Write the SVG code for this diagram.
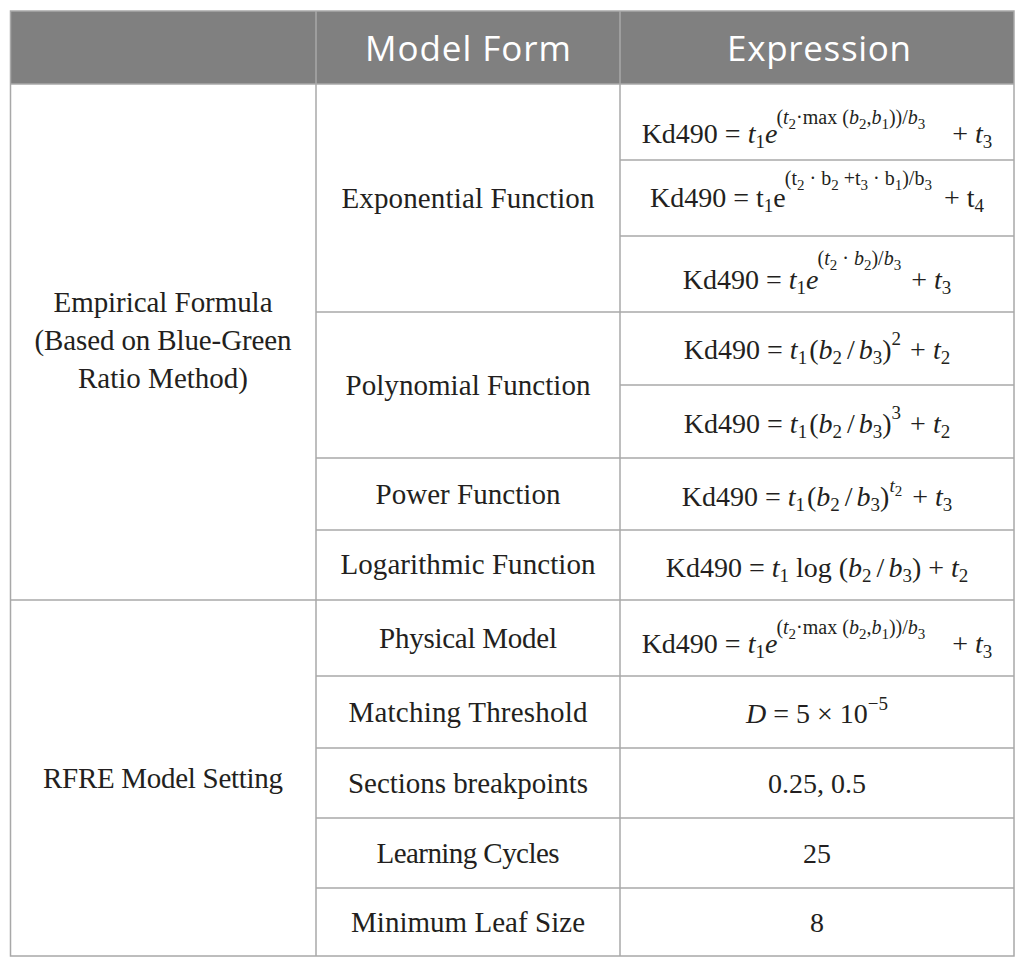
<svg xmlns="http://www.w3.org/2000/svg" width="1025" height="967" viewBox="0 0 1025 967">
<style>
.hd{font-family:"Open Sans","Liberation Sans",sans-serif;font-size:35px;fill:#ffffff;text-anchor:middle}
.t{font-family:"Liberation Serif",serif;font-size:29px;fill:#231f20;text-anchor:middle}
.f{font-family:"Liberation Serif",serif;font-size:28px;fill:#231f20;text-anchor:middle}
.i{font-style:italic}
.s1{font-size:19px}
.e1{font-size:20px}
.s2{font-size:15px}
.ln{stroke:#a8a8a8;stroke-width:1.5;fill:none}
</style>
<rect x="0" y="0" width="1025" height="967" fill="#ffffff"/>
<g id="header">
<rect x="10.5" y="11" width="1003.5" height="73" fill="#808080"/>
<text class="hd" x="468" y="61" textLength="206">Model Form</text>
<text class="hd" x="819" y="61" textLength="184">Expression</text>
</g>
<g id="grid">
<rect class="ln" x="10.5" y="11" width="1003.5" height="945"/>
<line class="ln" x1="316" y1="11" x2="316" y2="956"/>
<line class="ln" x1="620" y1="11" x2="620" y2="956"/>
<line class="ln" x1="10.5" y1="84" x2="1014" y2="84"/>
<line class="ln" x1="10.5" y1="600" x2="1014" y2="600"/>
<line class="ln" x1="316" y1="312" x2="1014" y2="312"/>
<line class="ln" x1="316" y1="458" x2="1014" y2="458"/>
<line class="ln" x1="316" y1="530" x2="1014" y2="530"/>
<line class="ln" x1="316" y1="676" x2="1014" y2="676"/>
<line class="ln" x1="316" y1="748" x2="1014" y2="748"/>
<line class="ln" x1="316" y1="818" x2="1014" y2="818"/>
<line class="ln" x1="316" y1="888" x2="1014" y2="888"/>
<line class="ln" x1="620" y1="160" x2="1014" y2="160"/>
<line class="ln" x1="620" y1="236" x2="1014" y2="236"/>
<line class="ln" x1="620" y1="385" x2="1014" y2="385"/>
</g>
<g id="cat-empirical">
<text class="t" x="163" y="312" textLength="219">Empirical Formula</text>
<text class="t" x="163" y="350" textLength="257">(Based on Blue-Green</text>
<text class="t" x="163" y="388" textLength="170">Ratio Method)</text>
</g>
<g id="cat-rfre">
<text class="t" x="163" y="788" textLength="240">RFRE Model Setting</text>
</g>
<g id="form-exponential"><text class="t" x="468" y="208" textLength="253">Exponential Function</text></g>
<g id="form-polynomial"><text class="t" x="468" y="395" textLength="245">Polynomial Function</text></g>
<g id="form-power"><text class="t" x="468" y="504" textLength="185">Power Function</text></g>
<g id="form-log"><text class="t" x="468" y="574" textLength="255">Logarithmic Function</text></g>
<g id="form-physical"><text class="t" x="468" y="648" textLength="178">Physical Model</text></g>
<g id="form-threshold"><text class="t" x="468" y="722" textLength="239">Matching Threshold</text></g>
<g id="form-breakpoints"><text class="t" x="468" y="793" textLength="240">Sections breakpoints</text></g>
<g id="form-cycles"><text class="t" x="468" y="863" textLength="183">Learning Cycles</text></g>
<g id="form-leaf"><text class="t" x="468" y="932" textLength="234">Minimum Leaf Size</text></g>
<g id="expr-1"><text class="f" x="817" y="143">Kd490 = <tspan class="i">t</tspan><tspan class="s1" dy="5">1</tspan><tspan class="i" dy="-5">e</tspan><tspan class="e1" dy="-19" dx="-1">(</tspan><tspan class="e1 i">t</tspan><tspan class="s2" dy="5">2</tspan><tspan class="e1" dy="-5">·max (</tspan><tspan class="e1 i">b</tspan><tspan class="s2" dy="5">2</tspan><tspan class="e1" dy="-5">,</tspan><tspan class="e1 i">b</tspan><tspan class="s2" dy="5">1</tspan><tspan class="e1" dy="-5">))/</tspan><tspan class="e1 i">b</tspan><tspan class="s2" dy="5">3</tspan><tspan dy="14" dx="20"> + </tspan><tspan class="i">t</tspan><tspan class="s1" dy="5">3</tspan></text></g>
<g id="expr-2"><text class="f" x="817" y="207">Kd490 = t<tspan class="s1" dy="5">1</tspan><tspan dy="-5">e</tspan><tspan class="e1" dy="-22" dx="-1">(t</tspan><tspan class="s2" dy="5">2</tspan><tspan class="e1" dy="-5"> · b</tspan><tspan class="s2" dy="5">2</tspan><tspan class="e1" dy="-5"> +t</tspan><tspan class="s2" dy="5">3</tspan><tspan class="e1" dy="-5"> · b</tspan><tspan class="s2" dy="5">1</tspan><tspan class="e1" dy="-5">)/b</tspan><tspan class="s2" dy="5">3</tspan><tspan dy="17" dx="5"> + </tspan>t<tspan class="s1" dy="5">4</tspan></text></g>
<g id="expr-3"><text class="f" x="817" y="289">Kd490 = <tspan class="i">t</tspan><tspan class="s1" dy="5">1</tspan><tspan class="i" dy="-5">e</tspan><tspan class="e1" dy="-24" dx="-1">(</tspan><tspan class="e1 i">t</tspan><tspan class="s2" dy="5">2</tspan><tspan class="e1" dy="-5"> · </tspan><tspan class="e1 i">b</tspan><tspan class="s2" dy="5">2</tspan><tspan class="e1" dy="-5">)/</tspan><tspan class="e1 i">b</tspan><tspan class="s2" dy="5">3</tspan><tspan dy="19" dx="3"> + </tspan><tspan class="i">t</tspan><tspan class="s1" dy="5">3</tspan></text></g>
<g id="expr-4"><text class="f" x="817" y="359">Kd490 = <tspan class="i">t</tspan><tspan class="s1" dy="5">1</tspan><tspan dy="-5" dx="2">(</tspan><tspan class="i">b</tspan><tspan class="s1" dy="5">2</tspan><tspan dy="-5" dx="5">/</tspan><tspan class="i" dx="4">b</tspan><tspan class="s1" dy="5">3</tspan><tspan dy="-5">)</tspan><tspan class="s1" dy="-14">2</tspan><tspan dy="14" dx="2"> + </tspan><tspan class="i">t</tspan><tspan class="s1" dy="5">2</tspan></text></g>
<g id="expr-5"><text class="f" x="817" y="433">Kd490 = <tspan class="i">t</tspan><tspan class="s1" dy="5">1</tspan><tspan dy="-5" dx="2">(</tspan><tspan class="i">b</tspan><tspan class="s1" dy="5">2</tspan><tspan dy="-5" dx="5">/</tspan><tspan class="i" dx="4">b</tspan><tspan class="s1" dy="5">3</tspan><tspan dy="-5">)</tspan><tspan class="s1" dy="-14">3</tspan><tspan dy="14" dx="2"> + </tspan><tspan class="i">t</tspan><tspan class="s1" dy="5">2</tspan></text></g>
<g id="expr-6"><text class="f" x="817" y="506">Kd490 = <tspan class="i">t</tspan><tspan class="s1" dy="5">1</tspan><tspan dy="-5" dx="2">(</tspan><tspan class="i">b</tspan><tspan class="s1" dy="5">2</tspan><tspan dy="-5" dx="5">/</tspan><tspan class="i" dx="4">b</tspan><tspan class="s1" dy="5">3</tspan><tspan dy="-5">)</tspan><tspan class="s1 i" dy="-14">t</tspan><tspan class="s2" dy="4">2</tspan><tspan dy="10" dx="3"> + </tspan><tspan class="i">t</tspan><tspan class="s1" dy="5">3</tspan></text></g>
<g id="expr-7"><text class="f" x="817" y="577">Kd490 = <tspan class="i">t</tspan><tspan class="s1" dy="5">1</tspan><tspan dy="-5"> log (</tspan><tspan class="i">b</tspan><tspan class="s1" dy="5">2</tspan><tspan dy="-5" dx="5">/</tspan><tspan class="i" dx="4">b</tspan><tspan class="s1" dy="5">3</tspan><tspan dy="-5">) + </tspan><tspan class="i">t</tspan><tspan class="s1" dy="5">2</tspan></text></g>
<g id="expr-8"><text class="f" x="817" y="653">Kd490 = <tspan class="i">t</tspan><tspan class="s1" dy="5">1</tspan><tspan class="i" dy="-5">e</tspan><tspan class="e1" dy="-19" dx="-1">(</tspan><tspan class="e1 i">t</tspan><tspan class="s2" dy="5">2</tspan><tspan class="e1" dy="-5">·max (</tspan><tspan class="e1 i">b</tspan><tspan class="s2" dy="5">2</tspan><tspan class="e1" dy="-5">,</tspan><tspan class="e1 i">b</tspan><tspan class="s2" dy="5">1</tspan><tspan class="e1" dy="-5">))/</tspan><tspan class="e1 i">b</tspan><tspan class="s2" dy="5">3</tspan><tspan dy="14" dx="20"> + </tspan><tspan class="i">t</tspan><tspan class="s1" dy="5">3</tspan></text></g>
<g id="expr-threshold"><text class="f" x="817" y="723"><tspan class="i">D</tspan> = 5 × 10<tspan class="s1" dy="-13">−5</tspan></text></g>
<g id="expr-breakpoints"><text class="f" x="817" y="793">0.25, 0.5</text></g>
<g id="expr-cycles"><text class="f" x="817" y="863">25</text></g>
<g id="expr-leaf"><text class="f" x="817" y="932">8</text></g>
</svg>
